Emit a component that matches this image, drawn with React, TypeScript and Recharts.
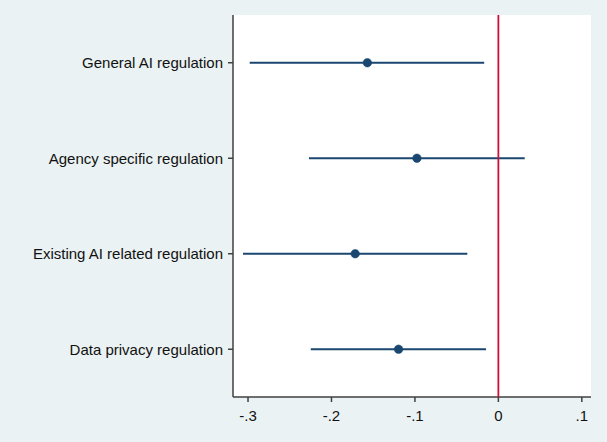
import { ScatterChart, Scatter, XAxis, YAxis, CartesianGrid, ErrorBar } from "recharts";

const categories = ["General AI regulation", "Agency specific regulation", "Existing AI related regulation", "Data privacy regulation"];
const estimates = [-0.157, -0.0976, -0.1716, -0.1196];
const lowerCI = [-0.298, -0.227, -0.306, -0.2248];
const upperCI = [-0.017, 0.0316, -0.0372, -0.0148];
const xTicks = [-0.3, -0.2, -0.1, 0, 0.1];
const zeroRef = [{ est: 0, pos: 2.5 }];

const n = categories.length;
const data = categories.map((name, i) => ({
  name,
  pos: n - i,
  est: estimates[i],
  err: [estimates[i] - lowerCI[i], upperCI[i] - estimates[i]],
}));

const NAVY = "#1A476F";
const BG = "#EAF2F3";
const PLOT_H = 382;

const fmtX = (v: number) => {
  if (v === 0) return "0";
  const s = v.toFixed(1);
  return s.replace("0.", ".");
};

const Dot = (props: any) => {
  const { cx, cy } = props;
  return <circle cx={cx} cy={cy} r={4.3} fill={NAVY} stroke={NAVY} strokeWidth={0.5} />;
};

// vertical line through the middle point, spanning the plot height
const ZeroLine = (props: any) => {
  const { cx, cy } = props;
  return <line x1={cx} x2={cx} y1={cy - PLOT_H / 2} y2={cy + PLOT_H / 2} stroke="#D0103A" strokeWidth={1.8} />;
};

export default function App() {
  return (
    <div style={{ position: "absolute", left: 0, top: 0, width: 607, height: 442, background: BG, fontFamily: "Arial, 'Liberation Sans', sans-serif" }}>
      <ScatterChart width={607} height={442} margin={{ top: 15, right: 16, bottom: 0, left: 0 }}>
        <rect x={233} y={15} width={358} height={PLOT_H} fill="#FFFFFF" />
        <CartesianGrid horizontal vertical={false} stroke={BG} strokeWidth={1.5} />
        <XAxis
          type="number"
          dataKey="est"
          domain={[-0.318, 0.111]}
          ticks={xTicks}
          tickFormatter={fmtX}
          allowDataOverflow
          height={45}
          tickSize={5}
          tickMargin={8}
          axisLine={{ stroke: "#404040", strokeWidth: 1.5 }}
          tickLine={{ stroke: "#404040", strokeWidth: 1.5 }}
          tick={{ fill: "#111111", fontSize: 15 }}
        />
        <YAxis
          type="number"
          dataKey="pos"
          domain={[0.5, 4.5]}
          ticks={[1, 2, 3, 4]}
          allowDataOverflow
          width={233}
          tickFormatter={(v: number) => categories[n - v] ?? ""}
          tickSize={5}
          tickMargin={5}
          axisLine={{ stroke: "#404040", strokeWidth: 1.5 }}
          tickLine={{ stroke: "#404040", strokeWidth: 1.5 }}
          tick={{ fill: "#111111", fontSize: 15 }}
        />
        <Scatter data={zeroRef} shape={<ZeroLine />} isAnimationActive={false} />
        <Scatter data={data} shape={<Dot />} isAnimationActive={false}>
          <ErrorBar dataKey="err" direction="x" width={0} stroke={NAVY} strokeWidth={1.8} />
        </Scatter>
      </ScatterChart>
    </div>
  );
}
